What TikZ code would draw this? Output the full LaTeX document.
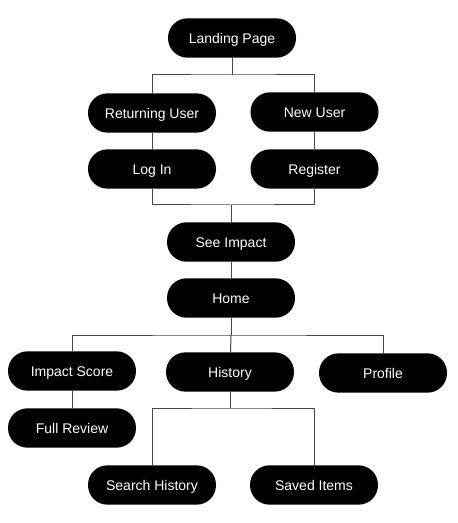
\documentclass[tikz,border=0pt]{standalone}
\usepackage{fontspec}
\setmainfont{Liberation Sans}

\tikzset{
    pill/.style={draw=none, fill=black, text=white, rectangle, rounded corners=14.6pt,
        minimum width=96pt, minimum height=29.5pt, inner sep=0pt,
        text height=7.6pt, text depth=0pt, font=\fontsize{10.5}{12}\selectfont},
    link/.style={draw=black!72, line width=0.75pt}
}

\begin{document}
\begin{tikzpicture}[x=0.75pt, y=-0.75pt]
    % Frame
    \useasboundingbox (0,0) rectangle (457,523);

    % Top
    \node[pill] (landing) at (232,38) {Landing Page};
    \node[pill] (retuser) at (152,113) {Returning User};
    \node[pill] (newuser) at (314.5,112) {New User};
    \node[pill] (login) at (152,169) {Log In};
    \node[pill] (register) at (314.5,169) {Register};

    % Middle
    \node[pill] (impact) at (231,242) {See Impact};
    \node[pill] (home) at (231,298) {Home};

    % Bottom
    \node[pill] (score) at (72,371) {Impact Score};
    \node[pill] (history) at (230,372) {History};
    \node[pill] (profile) at (383,373) {Profile};
    \node[pill] (review) at (72,428) {Full Review};
    \node[pill] (search) at (152,485) {Search History};
    \node[pill] (saved) at (314,485) {Saved Items};

    % Junctions
    \coordinate (split) at (232,75);
    \coordinate (merge) at (231,205);
    \coordinate (fork) at (231,335);
    \coordinate (sub) at (230,408);

    % Links
    \draw[link] (landing) -- (split);
    \draw[link] (retuser) |- (split) -| (newuser);
    \draw[link] (retuser) -- (login);
    \draw[link] (newuser) -- (register);
    \draw[link] (login) |- (merge) -| (register);
    \draw[link] (merge) -- (impact);
    \draw[link] (impact) -- (home);
    \draw[link] (home) -- (fork);
    \draw[link] (score) |- (fork) -| (profile);
    \draw[link] (fork) -- (history);
    \draw[link] (score) -- (review);
    \draw[link] (history) -- (sub);
    \draw[link] (search) |- (sub) -| (saved);
\end{tikzpicture}
\end{document}
